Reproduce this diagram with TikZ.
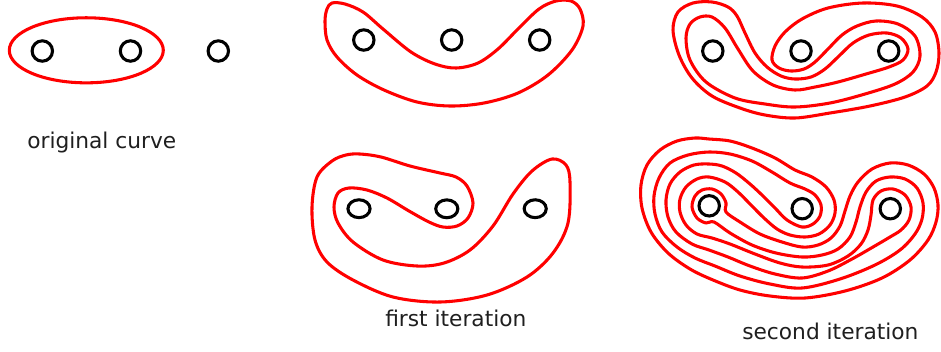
\documentclass[tikz,border=0pt]{standalone}
\usepackage{fontspec}
\setmainfont{DejaVu Sans}
\usetikzlibrary{shapes.geometric}
\tikzset{
  curve/.style={draw=red, line width=2.3pt, line join=round},
  hole/.style={circle, draw=black, line width=2.3pt, inner sep=0pt, minimum size=15.3pt},
  flathole/.style={ellipse, draw=black, line width=2.3pt, inner sep=0pt,
                   minimum width=16.6pt, minimum height=13.4pt},
  caption/.style={font=\fontsize{16.3}{19}\selectfont, text=black!88,
                  inner sep=0pt, anchor=base west},
}
\begin{document}
\begin{tikzpicture}[x=0.75pt, y=-0.75pt]
\useasboundingbox (0,0) rectangle (941,351);

% ---------- original curve ----------
\draw[curve] (86.3,50.3) ellipse [x radius=57.75pt, y radius=24.4pt];
\node[hole] (a1) at (42.3,51) {};
\node[hole] (a2) at (130.5,51) {};
\node[hole] (a3) at (218.3,51) {};
\node[caption] (capA) at (27,148) {original curve};

% ---------- first iteration, upper ----------
\draw[curve] plot[smooth cycle, tension=0.55] coordinates {
 (332,3) (345,4) (363,12) (383,29) (411,52) (435,64) (456,68) (478,63)
 (498,49) (518,29) (539,9) (556,1) (571,1) (580,9) (583,26) (572,50)
 (548,75) (518,93) (484,103) (450,106) (417,102) (384,90) (357,75)
 (337,57) (327,40) (325,21) (327,9)};
\node[hole] (b1) at (363.8,40) {};
\node[hole] (b2) at (451.7,40) {};
\node[hole] (b3) at (539.7,40) {};

% ---------- first iteration, lower ----------
\draw[curve] plot[smooth cycle, tension=0.55] coordinates {
 (360,154) (381,157) (410,166) (440,173) (456,177) (467,186) (473,203)
 (468,218) (457,226) (443,227) (429,222) (409,211) (387,198) (367,190)
 (349,188) (338,193) (334,207) (338,223) (353,242) (383,260) (417,266)
 (444,263) (470,250) (493,226) (513,194) (532,171) (552,159) (566,165)
 (570,182) (568,223) (553,253) (527,277) (487,295) (440,302) (393,297)
 (353,280) (327,262) (315,240) (312,207) (317,177) (332,161) (346,155)};
\node[flathole] (c1) at (359,208.7) {};
\node[flathole] (c2) at (446.8,208.8) {};
\node[flathole] (c3) at (535.2,208.7) {};
\node[caption] (capB) at (385,326.5) {first iteration};

% ---------- second iteration, upper ----------
\draw[curve] plot[smooth cycle, tension=0.55] coordinates {
 (772,60) (775,46) (785,32) (802,19) (828,8) (863,3) (897,6) (922,17)
 (935,32) (939,53) (936,72) (927,86) (905,97) (870,106) (830,113)
 (795,118) (765,115) (740,108) (712,96) (692,78) (679,55) (673,30)
 (678,12) (693,3) (712,2) (728,7) (737,16) (745,33) (755,53) (767,67)
 (781,76) (795,79) (811,77) (825,69) (839,56) (853,43) (869,35)
 (887,33) (901,38) (908,49) (903,60) (889,67) (866,74) (838,82)
 (815,87) (795,90) (773,85) (753,71) (738,49) (725,28) (712,17)
 (700,17) (690,24) (686,38) (690,60) (706,82) (735,98) (765,104)
 (795,107) (830,103) (865,94) (895,84) (913,72) (920,56) (915,36)
 (898,24) (876,21) (857,26) (842,35) (828,49) (815,62) (804,69)
 (791,71) (779,68)};
\node[hole] (d1) at (712.8,51) {};
\node[hole] (d2) at (801,51) {};
\node[hole] (d3) at (888.7,51) {};

% ---------- second iteration, lower ----------
\draw[curve] plot[smooth cycle, tension=0.55] coordinates {
 (726,212) (740,222) (760,234) (782,242) (802,247) (818,245) (831,238)
 (840,226) (845,211) (850,196) (858,182) (872,169) (890,163) (908,165)
 (924,174) (934,188) (938,205) (936,222) (928,240) (910,260) (882,278)
 (845,291) (805,298) (770,296) (740,290) (713,280) (690,269) (668,253)
 (651,232) (642,208) (641,185) (647,165) (660,150) (677,141) (695,138)
 (709,139) (730,141) (752,148) (775,158) (795,170) (812,177) (826,187)
 (834,200) (835,213) (830,225) (819,234) (805,237) (790,235) (777,229)
 (764,218) (751,205) (738,192) (725,182) (709,177) (697,179) (686,187)
 (680,199) (680,212) (686,225) (697,234) (712,238) (730,244) (755,254)
 (780,263) (802,267) (828,265) (848,256) (861,244) (868,230) (871,215)
 (873,200) (881,191) (893,189) (905,195) (911,207) (909,220) (901,230)
 (890,237) (873,247) (852,259) (828,271) (802,278) (775,274) (750,266)
 (728,257) (709,250) (692,244) (676,232) (668,217) (666,200) (670,184)
 (680,172) (694,165) (709,164) (722,166) (736,173) (750,184) (763,196)
 (775,208) (787,220) (802,227) (813,224) (820,216) (821,205) (815,195)
 (805,189) (790,183) (772,172) (752,161) (730,154) (709,152) (688,155)
 (670,163) (659,178) (654,196) (655,214) (662,232) (677,247) (695,258)
 (715,266) (740,276) (770,284) (802,288) (840,279) (875,265) (900,250)
 (915,234) (922,219) (923,203) (917,188) (905,179) (890,177) (876,181)
 (866,192) (860,207) (856,222) (850,237) (838,249) (822,255) (802,257)
 (776,253) (752,245) (730,233) (714,222) (706,223) (697,218) (692,207)
 (695,196) (702,190) (712,189) (721,194) (726,203)};
\node[hole] (e1) at (709.2,205.8) {};
\node[hole] (e2) at (802.2,208.7) {};
\node[hole] (e3) at (890.3,208.7) {};
\node[caption] (capC) at (742,339) {second iteration};
\end{tikzpicture}
\end{document}
